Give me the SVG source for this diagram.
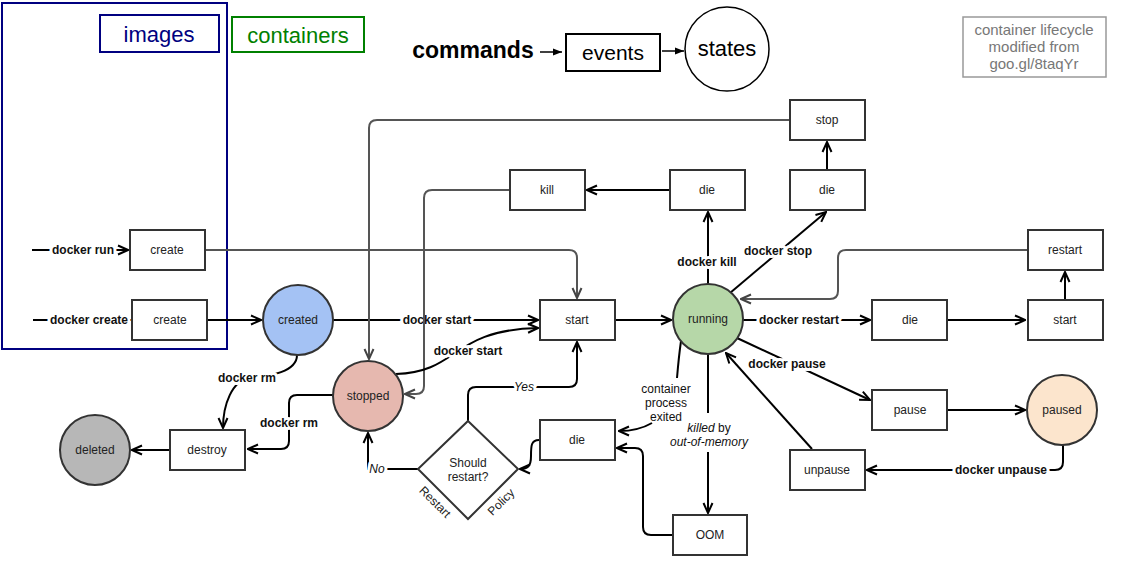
<svg xmlns="http://www.w3.org/2000/svg" width="1129" height="575" viewBox="0 0 1129 575">
<defs>
<marker id="a" viewBox="0 0 12 12" refX="11" refY="6" markerWidth="12" markerHeight="12" markerUnits="userSpaceOnUse" orient="auto"><path d="M1,1.5 L11,6 L1,10.5" fill="none" stroke="#000" stroke-width="2"/></marker>
<marker id="ag" viewBox="0 0 12 12" refX="11" refY="6" markerWidth="12" markerHeight="12" markerUnits="userSpaceOnUse" orient="auto"><path d="M1,1.5 L11,6 L1,10.5" fill="none" stroke="#444" stroke-width="2"/></marker>
<marker id="t" viewBox="0 0 10 10" refX="10" refY="5" markerWidth="9" markerHeight="9" markerUnits="userSpaceOnUse" orient="auto"><path d="M0,1 L10,5 L0,9 Z" fill="#000"/></marker>
<style>
.box{fill:#fff;stroke:#333;stroke-width:2}
.t{font-family:"Liberation Sans",Arial,sans-serif;font-size:12px;fill:#222;text-anchor:middle;dominant-baseline:central}
.c{fill:none;stroke:#000;stroke-width:2;marker-end:url(#a)}
.cn{fill:none;stroke:#000;stroke-width:2}
.g{fill:none;stroke:#555;stroke-width:2;marker-end:url(#ag)}
.lb{font-family:"Liberation Sans",Arial,sans-serif;font-size:12px;font-weight:bold;fill:#111;text-anchor:middle;dominant-baseline:central;paint-order:stroke;stroke:#fff;stroke-width:6px;stroke-linejoin:round}
.ln{font-family:"Liberation Sans",Arial,sans-serif;font-size:12px;fill:#111;text-anchor:middle;dominant-baseline:central;paint-order:stroke;stroke:#fff;stroke-width:6px;stroke-linejoin:round}
.it{font-style:italic}
.big{font-family:"Liberation Sans",Arial,sans-serif;text-anchor:middle;dominant-baseline:central}
</style>
</defs>
<rect width="1129" height="575" fill="#fff"/>

<g id="legend">
<rect x="2" y="3" width="225" height="346" fill="none" stroke="#000080" stroke-width="2"/>
<rect x="100" y="15" width="119" height="37" fill="none" stroke="#000080" stroke-width="2"/>
<text class="big" x="159" y="34" font-size="22" fill="#000080">images</text>
<rect x="232" y="17" width="132" height="35" fill="none" stroke="#008000" stroke-width="2"/>
<text class="big" x="298" y="35" font-size="22" fill="#008000">containers</text>
<text class="big" x="473" y="50" font-size="23" font-weight="bold" fill="#000">commands</text>
<path d="M540,52 L562,52" stroke="#000" stroke-width="1.5" marker-end="url(#t)"/>
<rect x="566" y="34" width="94" height="37" fill="#fff" stroke="#000" stroke-width="2"/>
<text class="big" x="613" y="52" font-size="21" fill="#000">events</text>
<path d="M662,51 L684,51" stroke="#000" stroke-width="1.5" marker-end="url(#t)"/>
<circle cx="727" cy="49" r="42" fill="#fff" stroke="#000" stroke-width="1.5"/>
<text class="big" x="727" y="48" font-size="22" fill="#000">states</text>
<rect x="963" y="17" width="143" height="60" fill="none" stroke="#999" stroke-width="1.5"/>
<text class="big" x="1034" y="29" font-size="15" fill="#777">container lifecycle</text>
<text class="big" x="1034" y="46" font-size="15" fill="#777">modified from</text>
<text class="big" x="1034" y="63" font-size="15" fill="#777">goo.gl/8taqYr</text>
</g>

<g id="connectors">
<path class="c" d="M32,250 L128,250"/>
<text class="lb" x="83" y="250">docker run</text>
<path class="cn" d="M33,320 L132,320"/>
<text class="lb" x="89" y="320">docker create</text>
<path class="g" d="M205,250 L569,250 Q577,250 577,258 L577,298"/>
<path class="c" d="M207,320 L261,320"/>
<path class="c" d="M333,320 L538,320"/>
<text class="lb" x="437" y="320">docker start</text>
<path class="g" d="M789,120 L377,120 Q369,120 369,128 L369,359"/>
<path class="g" d="M509,190 L432,190 Q424,190 424,198 L424,386 Q424,394 416,394 L405,394"/>
<path class="c" d="M396,374 C460,372 450,330 538,328"/>
<text class="lb" x="468" y="351">docker start</text>
<path class="c" d="M669,190 L587,190"/>
<path class="c" d="M708,284 L708,212"/>
<text class="lb" x="707" y="262">docker kill</text>
<path class="c" d="M730,293 L826,212"/>
<text class="lb" x="778" y="251">docker stop</text>
<path class="c" d="M827,170 L827,142"/>
<path class="g" d="M1027,250 L846,250 Q838,250 838,258 L838,291 Q838,299 830,299 L741,299"/>
<path class="c" d="M615,320 L671,320"/>
<path class="c" d="M743,320 L870,320"/>
<text class="lb" x="799" y="320">docker restart</text>
<path class="c" d="M947,320 L1025,320"/>
<path class="c" d="M1065,300 L1065,272"/>
<path class="c" d="M737,338 L870,400"/>
<text class="lb" x="787" y="364">docker pause</text>
<path class="c" d="M947,410 L1025,410"/>
<path class="c" d="M1063,445 L1063,462 Q1063,470 1055,470 L867,470"/>
<text class="lb" x="1001" y="470">docker unpause</text>
<path class="c" d="M812,449 L726,353"/>
<path class="cn" d="M708,354 L708,413"/>
<path class="c" d="M708,452 L708,513"/>
<text class="ln" x="709" y="428"><tspan class="it">killed</tspan> by</text>
<text class="ln it" x="709" y="442">out-of-memory</text>
<path class="cn" d="M681,341 C679,355 678,366 677,378"/>
<text class="ln" x="666" y="389">container</text>
<text class="ln" x="666" y="403">process</text>
<text class="ln" x="666" y="417">exited</text>
<path class="c" d="M652,423 C640,430 630,431 619,431"/>
<path class="c" d="M673,535 L651,535 Q643,535 643,527 L643,456 Q643,448 635,448 L617,448"/>
<path class="c" d="M539,440 C531,440 531,446 531,456 C531,466 528,469 520,469"/>
<path class="c" d="M468,421 L468,395 Q468,387 476,387 L569,387 Q577,387 577,379 L577,342"/>
<text class="ln it" x="524" y="387">Yes</text>
<path class="c" d="M418,469 L368,469 L368,433"/>
<text class="ln it" x="377" y="469">No</text>
<path class="c" d="M297,355 C297,372 270,376 250,378 C232,380 223,405 223,428"/>
<text class="lb" x="247" y="378">docker rm</text>
<path class="c" d="M333,395 L297,395 Q289,395 289,403 L289,441 Q289,449 281,449 L248,449"/>
<text class="lb" x="289" y="423">docker rm</text>
<path class="c" d="M170,450 L132,450"/>
</g>

<g id="create-run"><rect class="box" x="130" y="230" width="75" height="40"/><text class="t" x="167" y="250">create</text></g>
<g id="create-create"><rect class="box" x="132" y="300" width="75" height="40"/><text class="t" x="170" y="320">create</text></g>
<g id="created"><circle cx="298" cy="320" r="35" fill="#a4c2f4" stroke="#333" stroke-width="2"/><text class="t" x="298" y="320">created</text></g>
<g id="start"><rect class="box" x="540" y="300" width="75" height="40"/><text class="t" x="577" y="320">start</text></g>
<g id="running"><circle cx="708" cy="319" r="35" fill="#b6d7a8" stroke="#333" stroke-width="2"/><text class="t" x="708" y="319">running</text></g>
<g id="stopped"><circle cx="368" cy="396" r="35" fill="#e6b8af" stroke="#333" stroke-width="2"/><text class="t" x="368" y="396">stopped</text></g>
<g id="deleted"><circle cx="95" cy="450" r="35" fill="#b7b7b7" stroke="#333" stroke-width="2"/><text class="t" x="95" y="450">deleted</text></g>
<g id="destroy"><rect class="box" x="170" y="430" width="75" height="40"/><text class="t" x="207" y="450">destroy</text></g>
<g id="kill"><rect class="box" x="510" y="170" width="75" height="40"/><text class="t" x="547" y="190">kill</text></g>
<g id="die-kill"><rect class="box" x="670" y="170" width="75" height="40"/><text class="t" x="707" y="190">die</text></g>
<g id="die-stop"><rect class="box" x="790" y="170" width="75" height="40"/><text class="t" x="827" y="190">die</text></g>
<g id="stop"><rect class="box" x="790" y="100" width="75" height="40"/><text class="t" x="827" y="120">stop</text></g>
<g id="restart"><rect class="box" x="1028" y="230" width="75" height="40"/><text class="t" x="1065" y="250">restart</text></g>
<g id="die-restart"><rect class="box" x="872" y="300" width="75" height="40"/><text class="t" x="910" y="320">die</text></g>
<g id="start-restart"><rect class="box" x="1028" y="300" width="75" height="40"/><text class="t" x="1065" y="320">start</text></g>
<g id="pause"><rect class="box" x="872" y="390" width="75" height="40"/><text class="t" x="910" y="410">pause</text></g>
<g id="paused"><circle cx="1062" cy="410" r="35" fill="#fce5cd" stroke="#333" stroke-width="2"/><text class="t" x="1062" y="410">paused</text></g>
<g id="unpause"><rect class="box" x="790" y="450" width="75" height="40"/><text class="t" x="827" y="470">unpause</text></g>
<g id="die-exit"><rect class="box" x="540" y="420" width="75" height="40"/><text class="t" x="577" y="440">die</text></g>
<g id="oom"><rect class="box" x="673" y="515" width="74" height="40"/><text class="t" x="710" y="535">OOM</text></g>
<g id="should-restart">
<polygon class="box" points="468,421 518,469 468,519 418,469"/>
<text class="t" x="468" y="463">Should</text>
<text class="t" x="468" y="477">restart?</text>
<text class="t" transform="translate(435,502) rotate(45)" x="0" y="0">Restart</text>
<text class="t" transform="translate(501,502) rotate(-45)" x="0" y="0">Policy</text>
</g>
</svg>
